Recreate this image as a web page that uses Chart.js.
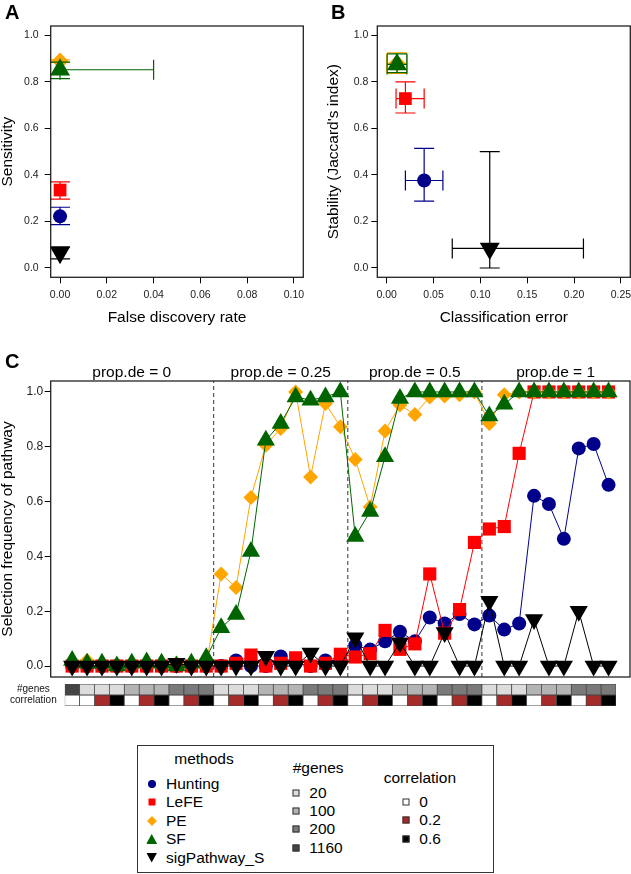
<!DOCTYPE html>
<html>
<head>
<meta charset="utf-8">
<title>Pathway selection</title>
<script src="https://cdn.jsdelivr.net/npm/chart.js@4.4.1/dist/chart.umd.min.js"></script>
<style>
  html, body { margin: 0; padding: 0; background: #fff; }
  body { position: relative; width: 631px; height: 874px; overflow: hidden; font-family: 'Liberation Sans', Arial, sans-serif; color: #000; }
  canvas { position: absolute; }
  .tag { position: absolute; font-weight: bold; font-size: 20px; line-height: 1; }
  #legend { position: absolute; left: 137px; top: 745px; width: 357px; height: 128px; box-sizing: border-box; border: 1px solid #333; font-size: 15.5px; }
  #legend .t { position: absolute; line-height: 18px; white-space: nowrap; transform: translateY(-50%); }
  #legend .c { transform: translate(-50%, -50%); }
  #legend .m { position: absolute; transform: translate(-50%, -50%); }
</style>
</head>
<body>
<canvas id="panelA" width="315" height="335" style="left:0;top:0"></canvas>
<canvas id="panelB" width="330" height="335" style="left:315px;top:0"></canvas>
<canvas id="panelC" width="631" height="340" style="left:0;top:340px"></canvas>
<canvas id="strip" width="631" height="50" style="left:0;top:670px"></canvas>
<div class="tag" style="left:5px;top:2px">A</div>
<div class="tag" style="left:331px;top:2px">B</div>
<div class="tag" style="left:5px;top:351px">C</div>
<div id="legend"></div>

<script>
// ---- data ----
const methods      = ['Hunting', 'LeFE', 'PE', 'SF', 'sigPathway_S']
const methodColors = ['#00008B', '#FF0000', '#FFA500', '#006400', '#000000']

// panel A: sensitivity vs false discovery rate
const fdrMean  = [0, 0, 0, 0, 0]
const fdrLow   = [0, 0, 0, 0, 0]
const fdrHigh  = [0, 0, 0, 0.04, 0]
const sensMean = [0.222, 0.335, 0.89, 0.852, 0.065]
const sensLow  = [0.186, 0.296, 0.885, 0.814, 0.039]
const sensHigh = [0.261, 0.37, 0.895, 0.885, 0.091]

// panel B: stability vs classification error
const errMean = [0.04, 0.02, 0.011, 0.011, 0.11]
const errLow  = [0.02, 0.01, 0.0, 0.0005, 0.07]
const errHigh = [0.06, 0.04, 0.022, 0.0215, 0.21]
const jacMean = [0.376, 0.728, 0.88, 0.875, 0.084]
const jacLow  = [0.287, 0.666, 0.836, 0.84, 0.0]
const jacHigh = [0.514, 0.80, 0.925, 0.92, 0.5]

// panel C: selection frequency for the 37 simulation settings
const freqHunting = [0, 0, 0, 0, 0, 0, 0, 0, 0, 0,
  0, 0.02, 0, 0, 0.035, 0.01, 0, 0.02, 0.02,
  0.075, 0.06, 0.09, 0.125, 0.09, 0.177, 0.155, 0.19, 0.152,
  0.184, 0.133, 0.155, 0.621, 0.591, 0.464, 0.794, 0.81, 0.661]
const freqLeFE = [0, 0, 0, 0, 0, 0, 0, 0, 0, 0,
  0, 0.01, 0.04, 0, 0.01, 0.03, 0, 0.01, 0.043,
  0.033, 0.045, 0.13, 0.061, 0.081, 0.336, 0.12, 0.206, 0.451,
  0.5, 0.509, 0.776, 1, 1, 1, 1, 1, 1]
const freqPE = [0.01, 0.02, 0, 0, 0, 0, 0, 0.01, 0, 0,
  0.336, 0.287, 0.615, 0.806, 0.867, 1, 0.69, 0.958, 0.873,
  0.754, 0.58, 0.858, 0.952, 0.918, 0.982, 0.985, 0.99, 1,
  0.885, 0.99, 1, 1, 1, 1, 1, 1, 1]
const freqSF = [0.02, 0.01, 0.01, 0, 0.01, 0.015, 0.01, 0, 0.01, 0.03,
  0.14, 0.188, 0.418, 0.824, 0.885, 0.982, 0.97, 0.982, 1,
  0.473, 0.564, 0.764, 0.976, 1, 1, 1, 1, 1,
  0.912, 0.955, 1, 1, 1, 1, 1, 1, 1]
const freqSig = [0, 0, 0, 0, 0, 0, 0, 0.01, 0, 0,
  0, 0, 0, 0.036, 0, 0, 0.048, 0, 0,
  0.103, 0, 0, 0.085, 0, 0, 0.122, 0, 0,
  0.236, 0, 0, 0.17, 0, 0, 0.2, 0, 0]

const groupTitles  = ['prop.de = 0', 'prop.de = 0.25', 'prop.de = 0.5', 'prop.de = 1']
const groupTitleAt = [5, 15, 24, 33.45]
const groupBreaks  = [10.5, 19.5, 28.5]

// settings strip under panel C
const stripGenes = [1160, 20, 20, 20, 100, 100, 100, 200, 200, 200,
  20, 20, 20, 100, 100, 100, 200, 200, 200,
  20, 20, 20, 100, 100, 100, 200, 200, 200,
  20, 20, 20, 100, 100, 100, 200, 200, 200]
const stripCorr = [0, 0, 0.2, 0.6, 0, 0.2, 0.6, 0, 0.2, 0.6,
  0, 0.2, 0.6, 0, 0.2, 0.6, 0, 0.2, 0.6,
  0, 0.2, 0.6, 0, 0.2, 0.6, 0, 0.2, 0.6,
  0, 0.2, 0.6, 0, 0.2, 0.6, 0, 0.2, 0.6]
const geneLevels = [20, 100, 200, 1160]
const geneColors = ['#DCDCDC', '#B4B4B4', '#7A7A7A', '#444444']
const corrLevels = [0, 0.2, 0.6]
const corrColors = ['#FFFFFF', '#A52A2A', '#000000']

const ticksAx = [0, 0.02, 0.04, 0.06, 0.08, 0.1]
const ticksBx = [0, 0.05, 0.1, 0.15, 0.2, 0.25]
const ticksY  = [0, 0.2, 0.4, 0.6, 0.8, 1]

// ---- styling ----
const FONT = "'Liberation Sans', Arial, sans-serif"
Chart.defaults.font.family = FONT
Chart.defaults.color = '#000'

const shapes   = ['circle', 'rect', 'rectRot', 'triangle', 'triangle']
const sizeAB   = [7, 9, 8.5, 11.5, 11.5]
const sizeC    = [7, 9.3, 7.5, 10.5, 10.5]

// box around the plotting region, like R's box()
const boxPlugin = {
  id: 'box',
  afterDatasetsDraw(chart) {
    const { ctx, chartArea: a } = chart
    ctx.save()
    ctx.strokeStyle = '#222'
    ctx.lineWidth = 1.3
    ctx.strokeRect(a.left, a.top, a.right - a.left, a.bottom - a.top)
    ctx.restore()
  }
}

// error bars with fixed-size caps, under each dataset's own marker
const errorBarPlugin = {
  id: 'errorBars',
  beforeDatasetDraw(chart, args) {
    const ds = chart.data.datasets[args.index]
    if (!ds.errorBars) return
    const { ctx, scales: { x, y } } = chart
    const cap = 10
    ctx.save()
    ctx.strokeStyle = ds.borderColor
    ctx.lineWidth = 1.2
    ds.errorBars.forEach((e, i) => {
      const px = x.getPixelForValue(ds.data[i].x)
      const py = y.getPixelForValue(ds.data[i].y)
      ctx.beginPath()
      if (e.yhi > e.ylo) {
        const y0 = y.getPixelForValue(e.ylo), y1 = y.getPixelForValue(e.yhi)
        ctx.moveTo(px, y0); ctx.lineTo(px, y1)
        ctx.moveTo(px - cap, y0); ctx.lineTo(px + cap, y0)
        ctx.moveTo(px - cap, y1); ctx.lineTo(px + cap, y1)
      }
      if (e.xhi > e.xlo) {
        const x0 = x.getPixelForValue(e.xlo), x1 = x.getPixelForValue(e.xhi)
        ctx.moveTo(x0, py); ctx.lineTo(x1, py)
        ctx.moveTo(x0, py - cap); ctx.lineTo(x0, py + cap)
        ctx.moveTo(x1, py - cap); ctx.lineTo(x1, py + cap)
      }
      ctx.stroke()
    })
    ctx.restore()
  }
}

const groupTitlePlugin = {
  id: 'groupTitles',
  afterDraw(chart) {
    const { ctx, chartArea, scales: { x } } = chart
    ctx.save()
    ctx.font = '15.5px ' + FONT
    ctx.fillStyle = '#000'
    ctx.textAlign = 'center'
    ctx.textBaseline = 'alphabetic'
    groupTitles.forEach((t, i) => ctx.fillText(t, x.getPixelForValue(groupTitleAt[i]), chartArea.top - 4))
    ctx.restore()
  }
}

function rGrid() {
  return { drawOnChartArea: false, drawTicks: true, tickLength: 6, color: '#000', lineWidth: 1 }
}

function yAxis(width, tickPad, text, titlePad, tickSize = 10.5) {
  return {
    type: 'linear', min: -0.04, max: 1.04,
    grid: rGrid(),
    border: { display: false },
    ticks: { padding: tickPad, autoSkip: false, color: '#222', font: { size: tickSize }, callback: v => v.toFixed(1) },
    afterBuildTicks: s => { s.ticks = ticksY.map(v => ({ value: v })) },
    afterFit: s => { s.width = width; s.paddingTop = 0; s.paddingBottom = 0 },
    title: { display: true, text, color: '#000', font: { size: 15.5, lineHeight: 1 }, padding: { top: titlePad, bottom: 0 } },
  }
}

function xAxis(min, max, tickVals, digits, height, text) {
  return {
    type: 'linear', min, max,
    grid: rGrid(),
    border: { display: false },
    ticks: { padding: 6, autoSkip: false, maxRotation: 0, color: '#222', font: { size: 10.5 }, callback: v => v.toFixed(digits) },
    afterBuildTicks: s => { s.ticks = tickVals.map(v => ({ value: v })) },
    afterFit: s => { s.height = height; s.paddingLeft = 0; s.paddingRight = 0 },
    title: { display: true, text, color: '#000', font: { size: 15.5, lineHeight: 1 }, padding: { top: 0, bottom: 9.25 } },
  }
}

function pointDataset(k, x, y, err) {
  return {
    label: methods[k],
    data: [{ x, y }],
    errorBars: [err],
    backgroundColor: methodColors[k],
    borderColor: methodColors[k],
    pointStyle: shapes[k],
    pointRotation: k === 4 ? 180 : 0,
    pointRadius: sizeAB[k],
    pointBorderWidth: 0,
    order: 5 - k,
    clip: false,
  }
}

const baseOptions = {
  responsive: false,
  animation: false,
  events: [],
  plugins: { legend: { display: false }, tooltip: { enabled: false } },
}

// ---- panel A ----
new Chart(document.getElementById('panelA'), {
  type: 'scatter',
  data: {
    datasets: methods.map((m, k) => pointDataset(k, fdrMean[k], sensMean[k],
      { xlo: fdrLow[k], xhi: fdrHigh[k], ylo: sensLow[k], yhi: sensHigh[k] }))
  },
  options: {
    ...baseOptions,
    layout: { autoPadding: false, padding: { top: 26, right: 11.7, bottom: 0, left: 0 } },
    scales: {
      x: xAxis(-0.004, 0.104, ticksAx, 2, 57.7, 'False discovery rate'),
      y: yAxis(50.7, 6, 'Sensitivity', 0),
    }
  },
  plugins: [errorBarPlugin, boxPlugin]
})

// ---- panel B ----
new Chart(document.getElementById('panelB'), {
  type: 'scatter',
  data: {
    datasets: methods.map((m, k) => pointDataset(k, errMean[k], jacMean[k],
      { xlo: errLow[k], xhi: errHigh[k], ylo: jacLow[k], yhi: jacHigh[k] }))
  },
  options: {
    ...baseOptions,
    layout: { autoPadding: false, padding: { top: 26, right: 14.7, bottom: 0, left: 0 } },
    scales: {
      x: xAxis(-0.01, 0.26, ticksBx, 2, 57.7, 'Classification error'),
      y: yAxis(62.3, 3, "Stability (Jaccard's index)", 10.75),
    }
  },
  plugins: [errorBarPlugin, boxPlugin]
})

// ---- panel C ----
const freqSeries = [freqHunting, freqLeFE, freqPE, freqSF, freqSig]

const separatorSets = groupBreaks.map(b => ({
  data: [{ x: b, y: -0.04 }, { x: b, y: 1.04 }],
  showLine: true,
  borderColor: '#333',
  borderWidth: 1,
  borderDash: [4, 3],
  pointRadius: 0,
  order: 10,
}))

const methodSets = freqSeries.map((vals, k) => ({
  label: methods[k],
  data: vals.map((v, i) => ({ x: i + 1, y: v })),
  showLine: true,
  borderColor: methodColors[k],
  backgroundColor: methodColors[k],
  borderWidth: 1,
  pointStyle: shapes[k],
  pointRotation: k === 4 ? 180 : 0,
  pointRadius: sizeC[k],
  pointBorderWidth: 0,
  order: 5 - k,
  clip: false,
}))

new Chart(document.getElementById('panelC'), {
  type: 'scatter',
  data: { datasets: [...separatorSets, ...methodSets] },
  options: {
    ...baseOptions,
    layout: { autoPadding: false, padding: { top: 41, right: 1, bottom: 3, left: 0 } },
    scales: {
      x: { type: 'linear', display: false, min: -0.44, max: 38.44 },
      y: yAxis(50.7, 1.5, 'Selection frequency of pathway', 0, 12),
    }
  },
  plugins: [boxPlugin, groupTitlePlugin]
})

// ---- settings strip ----
new Chart(document.getElementById('strip'), {
  type: 'bar',
  data: {
    datasets: [
      {
        label: '#genes',
        data: stripGenes.map((g, i) => ({ x: i + 1, y: [1, 2] })),
        backgroundColor: stripGenes.map(g => geneColors[geneLevels.indexOf(g)]),
      },
      {
        label: 'correlation',
        data: stripCorr.map((c, i) => ({ x: i + 1, y: [0, 1] })),
        backgroundColor: stripCorr.map(c => corrColors[corrLevels.indexOf(c)]),
      },
    ]
  },
  options: {
    ...baseOptions,
    layout: { autoPadding: false, padding: { top: 10.7, right: 15, bottom: 11.7, left: 0 } },
    datasets: { bar: { grouped: false, barPercentage: 1, categoryPercentage: 1, borderColor: '#444', borderWidth: 0.75, borderSkipped: false } },
    scales: {
      x: { type: 'linear', display: false, offset: false, min: 0.5, max: 37.5 },
      y: {
        type: 'linear', min: 0, max: 2,
        grid: { display: false, drawTicks: false },
        border: { display: false },
        ticks: { padding: 8, crossAlign: 'center', color: '#111', font: { size: 10 }, callback: v => (v > 1 ? '#genes' : 'correlation') },
        afterBuildTicks: s => { s.ticks = [{ value: 1.5 }, { value: 0.5 }] },
        afterFit: s => { s.width = 64.7 },
      }
    }
  }
})

// ---- legend ----
const legend = document.getElementById('legend')
function addText(text, left, cy, centered) {
  const d = document.createElement('div')
  d.className = centered ? 't c' : 't'
  d.style.left = left + 'px'
  d.style.top = cy + 'px'
  d.textContent = text
  legend.appendChild(d)
}
function addMark(cx, cy, css) {
  const d = document.createElement('div')
  d.className = 'm'
  d.style.cssText += `left:${cx}px;top:${cy}px;` + css
  legend.appendChild(d)
}
const legendMarks = [
  'width:8px;height:8px;border-radius:50%;',
  'width:7px;height:7px;',
  'width:7px;height:7px;transform:translate(-50%,-50%) rotate(45deg);',
  'width:11px;height:10px;clip-path:polygon(50% 0,100% 100%,0 100%);',
  'width:11px;height:10px;clip-path:polygon(0 0,100% 0,50% 100%);',
]

addText('methods', 66, 13, true)
methods.forEach((m, k) => {
  const cy = 37.5 + 18.5 * k
  addMark(13.7, cy, legendMarks[k] + `background:${methodColors[k]};`)
  addText(m, 28, cy)
})

addText('#genes', 154.7, 22.3)
geneLevels.forEach((g, k) => {
  const cy = 46.7 + 18.33 * k
  addMark(158, cy, `width:5px;height:5px;border:1px solid #333;background:${geneColors[k]};`)
  addText(String(g), 171.3, cy)
})

addText('correlation', 245.7, 31.7)
corrLevels.forEach((c, k) => {
  const cy = 56 + 18.33 * k
  addMark(268, cy, `width:5px;height:5px;border:1px solid #333;background:${corrColors[k]};`)
  addText(String(c), 281.3, cy)
})
</script>
</body>
</html>
